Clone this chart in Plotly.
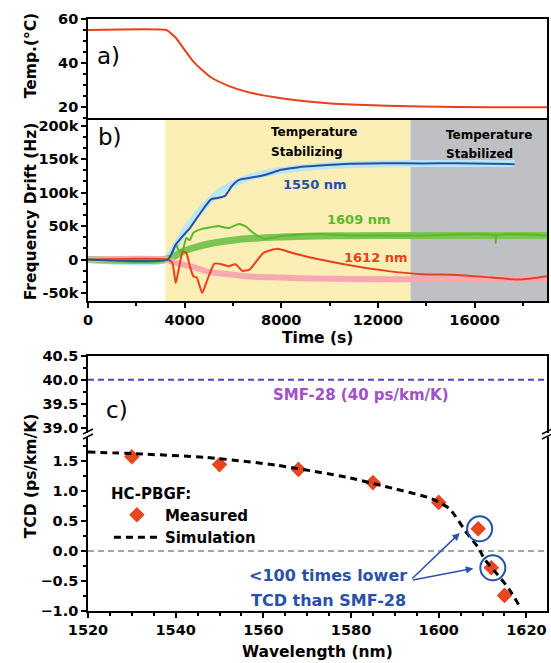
import plotly.graph_objects as go

# ---------------- data ----------------
# a) temperature
temp_time = [0, 3250, 3420, 3634, 3998, 4361, 4724, 5088, 5815, 6542, 7995, 9449, 10903, 13810, 16718, 19000]
temp_c = [55, 55, 53.6, 51.5, 46.0, 40.7, 36.9, 33.6, 29.7, 27.1, 24.1, 22.3, 21.2, 20.3, 20.0, 20.0]

# b) frequency drift (Hz) - measured
t_1550 = [0, 3300, 3630, 3920, 4220, 4510, 4800, 5090, 5380, 5670, 5960, 6250, 6540, 7270, 8000, 8720, 9450, 10900, 12360, 13810, 15260, 17660]
f_1550 = [0, 0, 22e3, 35e3, 47e3, 62e3, 77e3, 90e3, 92e3, 95e3, 110e3, 119e3, 121e3, 126e3, 134e3, 138e3, 140e3, 143e3, 144e3, 143.5e3, 144e3, 142.5e3]
t_1609 = [0, 3314, 3489, 3634, 3780, 3925, 4070, 4216, 4361, 4652, 4943, 5379, 5815, 6251, 6542, 6832, 7268, 7995, 9449, 10903, 13810, 16850, 16880, 16910, 19000]
f_1609 = [0, 0, 10e3, 23e3, 12e3, 15e3, 32e3, 29e3, 40e3, 45e3, 47e3, 50e3, 47e3, 53e3, 49e3, 40e3, 31e3, 35e3, 38e3, 36e3, 36e3, 36e3, 25e3, 36e3, 36e3]
t_1612 = [0, 3314, 3489, 3634, 3780, 3925, 4070, 4216, 4361, 4506, 4724, 4943, 5233, 5524, 5815, 6106, 6396, 6687, 7268, 7850, 8431, 9449, 10903, 12356, 13810, 15264, 16718, 17880, 19000]
f_1612 = [0, 0, -5e3, -35e3, -10e3, 12e3, 10e3, -10e3, -25e3, -27e3, -50e3, -30e3, -6e3, -7e3, -10e3, -7e3, -17e3, -15e3, 10e3, 16e3, 10e3, 1e3, -9e3, -17e3, -22e3, -23e3, -27e3, -30e3, -25e3]

# b) frequency drift (Hz) - simulation
ts_1550 = [0, 3200, 3630, 3920, 4220, 4510, 4800, 5090, 5380, 5670, 5960, 6540, 7270, 8000, 9450, 10900, 13810, 17660]
fs_1550 = [0, 0, 20e3, 38e3, 54e3, 67e3, 79e3, 90e3, 99e3, 106e3, 112e3, 121e3, 128e3, 133e3, 139e3, 142e3, 143.5e3, 143.5e3]
ts_1609 = [0, 3200, 3630, 3920, 4510, 5090, 5815, 6542, 7995, 9449, 10903, 13810, 19000]
fs_1609 = [0, 0, 6e3, 12e3, 19e3, 24e3, 28e3, 31e3, 33.5e3, 35e3, 35.5e3, 36e3, 36e3]
ts_1612 = [0, 3200, 3630, 4216, 5088, 5815, 6542, 7995, 9449, 10903, 13810, 19000]
fs_1612 = [0, 0, -5e3, -10e3, -19e3, -22e3, -25e3, -27e3, -28.5e3, -29e3, -29.5e3, -29.5e3]

# phases
t_stab_start = 3200
t_stabilized = 13350
t_end = 19000

freq_ticks = [-50e3, 0, 50e3, 100e3, 150e3, 200e3]
freq_ticktext = ["-50k", "0", "50k", "100k", "150k", "200k"]

# c) TCD
wl_meas = [1530, 1550, 1568, 1585, 1600, 1609, 1612, 1615]
tcd_meas = [1.57, 1.44, 1.36, 1.14, 0.81, 0.37, -0.28, -0.74]
wl_sim = [1520, 1531, 1547, 1563, 1579, 1587, 1598.5, 1602.5, 1606.5, 1609, 1610.5, 1613.5, 1616, 1618.7]
tcd_sim = [1.65, 1.62, 1.56, 1.43, 1.23, 1.09, 0.87, 0.70, 0.29, 0.06, -0.14, -0.40, -0.63, -0.95]
smf28_tcd = 40.0

# ---------------- layout helpers ----------------
W, H = 551, 663
ML, MR, MT, MB = 88, 2, 19, 52
PW, PH = W - ML - MR, H - MT - MB
X0 = ML            # window x of plot left edge
YB = H - MB        # window y of plot bottom edge


def px(x):
    return (x - X0) / PW


def py(y):
    return (YB - y) / PH


FONT = "DejaVu Sans"
BLACK = "black"
tickfont = dict(family=FONT, size=14.5, color=BLACK, weight="bold")

C_RED = "#E8401C"
C_BLUE = "#2350A8"
C_GREEN = "#5CB82A"
C_LBLUE = "#BDE6F2"
C_LGREEN = "#7BC653"
C_PINK = "#F6A9B0"

fig = go.Figure()

# a)
fig.add_trace(go.Scatter(x=temp_time, y=temp_c, mode="lines", line=dict(color=C_RED, width=2, shape="spline", smoothing=0.5),
                         xaxis="x", yaxis="y", showlegend=False))

# b) simulations
for t, f, c, w in [(ts_1550, fs_1550, C_LBLUE, 7), (ts_1609, fs_1609, C_LGREEN, 7), (ts_1612, fs_1612, C_PINK, 6)]:
    fig.add_trace(go.Scatter(x=t, y=f, mode="lines", line=dict(color=c, width=w, shape="spline", smoothing=0.8),
                             xaxis="x2", yaxis="y2", showlegend=False))
# b) measured
for t, f, c in [(t_1612, f_1612, C_RED), (t_1609, f_1609, C_GREEN), (t_1550, f_1550, C_BLUE)]:
    fig.add_trace(go.Scatter(x=t, y=f, mode="lines", line=dict(color=c, width=2, shape="spline", smoothing=0.5),
                             xaxis="x2", yaxis="y2", showlegend=False))

# c)
fig.add_trace(go.Scatter(x=wl_meas, y=tcd_meas, mode="markers", name="Measured",
                         marker=dict(symbol="diamond", size=12, color="#E8461E"),
                         xaxis="x3", yaxis="y3", legendrank=1))
fig.add_trace(go.Scatter(x=wl_sim, y=tcd_sim, mode="lines", name="Simulation",
                         line=dict(color=BLACK, width=3, dash="7px,5px", shape="spline", smoothing=0.6),
                         xaxis="x3", yaxis="y3", legendrank=2))

axis_common = dict(showline=True, linecolor=BLACK, linewidth=1.6, showgrid=False, zeroline=False,
                   tickfont=tickfont, ticks="outside", ticklen=5, tickwidth=1.5, tickcolor=BLACK)

dom_a = [py(118.3), 1]
dom_b = [py(301), py(118.3)]
dom_cu = [py(433), py(355.7)]
dom_cl = [0, py(437)]

fig.update_layout(
    width=W, height=H, margin=dict(l=ML, r=MR, t=MT, b=MB),
    plot_bgcolor="white", paper_bgcolor="white",
    font=dict(family=FONT, color=BLACK),
    xaxis=dict(axis_common, domain=[0, 1], anchor="y", range=[0, t_end], showticklabels=False, ticks="", mirror=True),
    yaxis=dict(axis_common, domain=dom_a, anchor="x", range=[15, 60], tickvals=[20, 40, 60], mirror=True,
               minor=dict(dtick=5, ticks="outside", ticklen=3, tickcolor=BLACK)),
    xaxis2=dict(axis_common, domain=[0, 1], anchor="y2", range=[0, t_end], matches="x",
                tickvals=[0, 4000, 8000, 12000, 16000], tickformat="d", mirror=False,
                minor=dict(dtick=2000, ticks="outside", ticklen=3, tickcolor=BLACK)),
    yaxis2=dict(axis_common, domain=dom_b, anchor="x2", range=[-62e3, 211e3], tickvals=freq_ticks,
                ticktext=freq_ticktext, mirror=True,
                minor=dict(dtick=50e3 / 3, ticks="outside", ticklen=3, tickcolor=BLACK)),
    xaxis3=dict(axis_common, domain=[0, 1], anchor="y3", range=[1520, 1624.7], dtick=20, tick0=1520,
                minor=dict(dtick=5, ticks="outside", ticklen=3, tickcolor=BLACK)),
    yaxis3=dict(axis_common, domain=dom_cl, anchor="x3", range=[-1, 1.9], tickvals=[-1, -0.5, 0, 0.5, 1, 1.5],
                tickformat=".1f", mirror=True,
                minor=dict(dtick=0.25, ticks="outside", ticklen=3, tickcolor=BLACK)),
    xaxis4=dict(axis_common, domain=[0, 1], anchor="y4", matches="x3", side="top", showticklabels=False, ticks=""),
    yaxis4=dict(axis_common, domain=dom_cu, anchor="x4", range=[38.9, 40.5], tickvals=[39, 39.5, 40, 40.5],
                tickformat=".1f", mirror=True,
                minor=dict(dtick=0.25, ticks="outside", ticklen=3, tickcolor=BLACK)),
    showlegend=True,
    legend=dict(x=px(109), y=py(479), xanchor="left", yanchor="top",
                title=dict(text="HC-PBGF:", font=dict(family=FONT, size=15, color=BLACK, weight="bold")),
                font=dict(family=FONT, size=15, color=BLACK, weight="bold"),
                bgcolor="rgba(0,0,0,0)", itemwidth=46, tracegroupgap=0),
)

shapes = [
    dict(type="rect", xref="x2", yref="y2 domain", x0=t_stab_start, x1=t_stabilized, y0=0, y1=1,
         fillcolor="#FCEFB5", line=dict(width=0), layer="below"),
    dict(type="rect", xref="x2", yref="y2 domain", x0=t_stabilized, x1=t_end, y0=0, y1=1,
         fillcolor="#BEC0C3", line=dict(width=0), layer="below"),
    dict(type="line", xref="x4 domain", yref="y4", x0=0, x1=1, y0=smf28_tcd, y1=smf28_tcd,
         line=dict(color="#4848C8", width=2, dash="6px,4px")),
    dict(type="line", xref="x3 domain", yref="y3", x0=0, x1=1, y0=0, y1=0,
         line=dict(color="#888888", width=1.6, dash="6px,4px"), layer="below"),
    dict(type="circle", xref="x3", yref="y3", xsizemode="pixel", ysizemode="pixel",
         xanchor=wl_meas[5], yanchor=tcd_meas[5], x0=-11, x1=14, y0=-12.5, y1=12.5,
         line=dict(color=C_BLUE, width=2)),
    dict(type="circle", xref="x3", yref="y3", xsizemode="pixel", ysizemode="pixel",
         xanchor=wl_meas[6], yanchor=tcd_meas[6], x0=-11, x1=14, y0=-12.5, y1=12.5,
         line=dict(color=C_BLUE, width=2)),
]
# axis-break marks
for xb in (X0, X0 + PW):
    for yb in (431.5, 436.5):
        shapes.append(dict(type="line", xref="paper", yref="paper", x0=px(xb - 5), x1=px(xb + 5),
                           y0=py(yb + 2.5), y1=py(yb - 2.5), line=dict(color=BLACK, width=1.5)))
fig.update_layout(shapes=shapes)


def ann(text, x, y, size, color=BLACK, bold=True, xanchor="center", angle=0):
    fig.add_annotation(text=text, xref="paper", yref="paper", x=px(x), y=py(y), xanchor=xanchor,
                       yanchor="middle", showarrow=False, textangle=angle,
                       font=dict(family=FONT, size=size, color=color, weight="bold" if bold else "normal"))


ann("Temp.(°C)", 31, 56, 15.5, angle=-90)
ann("Frequency Drift (Hz)", 31, 211, 15.5, angle=-90)
ann("TCD (ps/km/K)", 31, 476, 15.5, angle=-90)
ann("Time (s)", 318, 338, 15.5)
ann("Wavelength (nm)", 318, 652, 15.5)
ann("a)", 109, 56, 23, bold=False)
ann("b)", 110, 137, 23, bold=False)
ann("c)", 117, 410, 23, bold=False)
ann("Temperature", 270, 132, 12, xanchor="left")
ann("Stabilizing", 270, 152, 12, xanchor="left")
ann("Temperature", 446, 135, 12, xanchor="left")
ann("Stabilized", 446, 154, 12, xanchor="left")
ann("1550 nm", 316, 184, 13, color=C_BLUE)
ann("1609 nm", 360, 220, 13, color=C_GREEN)
ann("1612 nm", 377, 257, 13, color=C_RED)
ann("SMF-28 (40 ps/km/K)", 362, 395, 15, color="#A050C8")
ann("&lt;100 times lower", 248, 575, 16, color="#2B50A8", xanchor="left")
ann("TCD than SMF-28", 250, 600, 16, color="#2B50A8", xanchor="left")

# arrows from the text to the circled points
for hx, hy, ax, ay in [(1604.8, 0.30, -49, 47), (1607.9, -0.29, -62, 12)]:
    fig.add_annotation(x=hx, y=hy, xref="x3", yref="y3", ax=ax, ay=ay, axref="pixel", ayref="pixel",
                       text="", showarrow=True, arrowhead=2, arrowsize=1, arrowwidth=1.5, arrowcolor="#2B50A8")

# remove the default 8 px page margin so the 551x663 figure fills the window exactly
fig.write_html("out.html", config={"displayModeBar": False},
               post_script="document.body.style.margin='0';document.body.style.overflow='hidden';")
